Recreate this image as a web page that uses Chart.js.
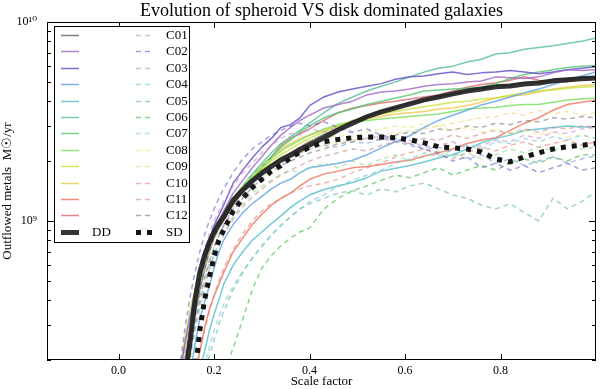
<!DOCTYPE html>
<html>
<head>
<meta charset="utf-8">
<script src="https://cdn.jsdelivr.net/npm/chart.js@4/dist/chart.umd.min.js"></script>
<style>
  body { margin: 0; background: #fff; }
  #wrap { width: 600px; height: 389px; }
</style>
</head>
<body>
<div id="wrap"><canvas id="chart"></canvas></div>
<script>
// scale factor grid shared by every curve
const scaleFactor = [0.13,0.14,0.15,0.16,0.17,0.18,0.19,0.20,0.21,0.22,0.24,0.26,0.28,0.30,0.32,0.34,0.36,0.38,0.40,0.43,0.46,0.49,0.52,0.55,0.58,0.61,0.64,0.67,0.70,0.73,0.76,0.79,0.82,0.85,0.88,0.91,0.94,0.97,1.00];

// outflowed metals, in units of 1e9 Msun/yr
const UNIT = 1e9;

// disk dominated (solid)
const s01 = [0.13,0.19,0.26,0.34,0.45,0.57,0.70,0.82,0.92,1.02,1.22,1.40,1.58,1.75,1.92,2.08,2.20,2.35,2.50,2.72,2.93,3.18,3.33,3.58,3.72,3.93,4.02,4.22,4.33,4.52,4.62,4.78,4.83,4.97,4.98,5.12,5.18,5.27,5.30];
const s02 = [0.15,0.21,0.30,0.38,0.50,0.63,0.76,0.90,1.00,1.12,1.38,1.60,1.85,2.10,2.40,2.70,2.95,3.20,3.40,3.70,3.85,4.00,4.30,4.45,4.50,4.60,4.75,4.85,4.90,5.00,5.05,5.30,5.25,5.20,5.30,5.55,5.75,5.70,5.75];
const s03 = [0.18,0.25,0.33,0.42,0.53,0.66,0.80,0.95,1.07,1.20,1.55,1.80,2.07,2.35,2.60,2.95,3.05,3.30,3.80,4.20,4.45,4.60,4.75,4.90,5.15,5.30,5.35,5.50,5.60,5.45,5.55,5.60,5.70,5.60,5.50,5.60,5.75,5.85,5.95];
const s04 = [0.09,0.12,0.17,0.24,0.32,0.39,0.47,0.58,0.70,0.80,0.96,1.10,1.22,1.33,1.45,1.55,1.62,1.75,1.85,1.90,1.95,2.02,2.15,2.33,2.50,2.68,2.95,3.20,3.40,3.60,3.83,4.00,4.20,4.40,4.60,4.85,5.10,5.35,5.60];
const s05 = [0.07,0.09,0.11,0.14,0.18,0.22,0.28,0.34,0.40,0.48,0.60,0.70,0.80,0.88,0.97,1.06,1.17,1.26,1.35,1.44,1.50,1.56,1.65,1.78,1.84,1.90,1.98,2.07,2.15,2.30,2.47,2.60,2.70,2.85,2.90,2.95,3.00,2.97,2.97];
const s06 = [0.13,0.19,0.27,0.35,0.47,0.60,0.72,0.85,0.95,1.05,1.30,1.50,1.72,1.95,2.20,2.45,2.65,2.85,3.10,3.50,3.90,4.20,4.50,4.75,5.00,5.30,5.60,5.85,6.00,6.30,6.50,6.90,7.00,7.30,7.45,7.60,7.80,8.00,8.30];
const s07 = [0.14,0.20,0.28,0.36,0.48,0.60,0.72,0.85,0.94,1.05,1.28,1.48,1.70,1.90,2.10,2.35,2.55,2.80,3.00,3.30,3.50,3.65,3.85,4.00,4.15,4.30,4.50,4.55,4.60,4.65,4.70,4.90,5.20,5.45,5.60,5.75,5.90,6.00,6.05];
const s08 = [0.14,0.20,0.28,0.37,0.48,0.60,0.72,0.84,0.94,1.03,1.25,1.45,1.65,1.85,2.05,2.25,2.40,2.55,2.70,2.90,3.05,3.15,3.20,3.25,3.30,3.35,3.40,3.45,3.55,3.65,3.70,3.72,3.80,3.85,3.85,3.95,4.05,4.10,4.15];
const s09 = [0.19,0.27,0.36,0.45,0.56,0.68,0.80,0.90,1.00,1.10,1.30,1.48,1.65,1.80,2.00,2.15,2.30,2.45,2.60,2.80,3.00,3.20,3.30,3.45,3.55,3.65,3.75,3.85,3.95,4.00,4.10,4.15,4.30,4.40,4.50,4.55,4.65,4.70,4.75];
const s10 = [0.15,0.22,0.30,0.39,0.50,0.62,0.74,0.85,0.95,1.05,1.25,1.45,1.65,1.85,2.05,2.30,2.45,2.60,2.70,2.85,3.00,3.15,3.25,3.35,3.45,3.50,3.55,3.65,3.70,3.80,3.95,4.15,4.25,4.30,4.45,4.60,4.70,4.80,4.85];
const s11 = [0.08,0.10,0.13,0.17,0.22,0.29,0.36,0.42,0.48,0.55,0.70,0.82,0.96,1.08,1.20,1.30,1.38,1.50,1.62,1.72,1.78,1.85,1.88,1.92,1.98,2.02,2.12,2.20,2.30,2.45,2.55,2.62,2.85,3.10,3.30,3.60,3.85,3.95,4.05];
const s12 = [0.14,0.20,0.28,0.37,0.48,0.60,0.72,0.83,0.92,1.00,1.20,1.40,1.60,1.85,2.10,2.40,2.60,2.75,2.90,3.20,3.50,3.70,3.80,3.92,4.00,4.10,4.20,4.30,4.50,4.70,4.85,4.95,5.10,5.30,5.10,4.95,5.00,5.20,5.25];

// spheroid dominated (dashed)
const c01 = [0.16,0.24,0.34,0.45,0.58,0.72,0.86,1.00,1.12,1.25,1.50,1.75,1.95,2.20,2.40,2.60,2.75,2.70,2.90,2.80,2.95,2.75,2.60,2.65,2.50,2.55,2.35,2.40,2.50,2.30,2.40,2.55,2.50,2.70,2.60,2.80,2.75,2.90,2.95];
const c02 = [0.20,0.30,0.42,0.55,0.70,0.85,1.00,1.15,1.30,1.45,1.75,2.05,2.30,2.50,2.70,2.85,3.00,3.10,3.00,3.15,2.95,2.80,2.90,2.70,2.60,2.45,2.30,2.20,2.00,2.10,1.85,1.95,1.80,1.90,1.75,1.85,1.95,1.80,1.85];
const c03 = [0.10,0.15,0.22,0.30,0.40,0.50,0.62,0.74,0.85,0.96,1.15,1.35,1.55,1.70,1.85,2.00,2.10,2.20,2.30,2.40,2.35,2.50,2.45,2.60,2.50,2.40,2.30,2.35,2.20,2.05,2.15,1.95,2.05,1.90,2.00,2.10,1.95,2.05,2.12];
const c04 = [0.06,0.08,0.10,0.12,0.15,0.19,0.23,0.28,0.33,0.38,0.47,0.56,0.65,0.74,0.85,0.95,1.05,1.15,1.25,1.35,1.50,1.60,1.70,1.80,1.95,2.05,2.20,2.10,2.30,2.40,2.30,2.50,2.45,2.60,2.50,2.65,2.55,2.70,2.60];
const c05 = [0.06,0.07,0.09,0.11,0.14,0.17,0.21,0.25,0.30,0.35,0.45,0.55,0.65,0.75,0.85,0.95,1.05,1.15,1.22,1.30,1.38,1.42,1.35,1.45,1.40,1.50,1.55,1.45,1.35,1.30,1.20,1.15,1.22,1.10,1.00,1.30,1.15,1.25,1.40];
const c06 = [0.04,0.05,0.06,0.07,0.08,0.09,0.11,0.13,0.15,0.17,0.23,0.32,0.45,0.58,0.67,0.75,0.82,0.88,0.92,1.15,1.30,1.42,1.50,1.60,1.70,1.65,1.75,1.85,1.70,1.80,1.90,1.80,1.95,2.05,1.95,2.10,2.00,2.15,2.15];
const c07 = [0.10,0.14,0.20,0.27,0.36,0.46,0.57,0.68,0.78,0.88,1.05,1.22,1.38,1.50,1.60,1.72,1.80,1.75,1.85,1.95,1.85,2.00,1.90,2.05,2.15,2.00,2.10,2.25,2.10,2.20,2.05,2.15,2.30,2.20,2.35,2.25,2.40,2.30,2.35];
const c08 = [0.15,0.22,0.31,0.40,0.52,0.64,0.76,0.88,0.98,1.08,1.30,1.50,1.70,1.90,2.05,2.20,2.30,2.45,2.55,2.60,2.70,2.65,2.80,2.90,3.00,2.95,3.10,3.00,2.85,2.95,2.80,2.90,2.75,2.85,2.70,2.80,2.65,2.70,2.60];
const c09 = [0.13,0.19,0.27,0.36,0.47,0.58,0.70,0.82,0.92,1.02,1.22,1.42,1.60,1.75,1.90,2.00,2.10,2.20,2.30,2.40,2.50,2.55,2.60,2.70,2.75,2.85,2.90,3.00,3.10,3.20,3.30,3.35,3.50,3.40,3.60,3.45,3.55,3.40,3.50];
const c10 = [0.08,0.10,0.13,0.17,0.22,0.28,0.35,0.42,0.50,0.58,0.72,0.86,1.00,1.12,1.22,1.30,1.38,1.45,1.50,1.55,1.62,1.75,1.85,1.95,2.10,2.20,2.30,2.15,2.05,2.20,2.35,2.25,2.40,2.50,2.35,2.45,2.55,2.40,2.50];
const c11 = [0.11,0.16,0.22,0.29,0.38,0.47,0.57,0.67,0.76,0.85,1.02,1.18,1.32,1.45,1.58,1.70,1.80,1.90,2.00,2.12,2.20,2.30,2.25,2.40,2.50,2.45,2.60,2.55,2.70,2.60,2.75,2.85,2.75,2.90,2.80,2.95,2.90,3.00,2.97];
const c12 = [0.12,0.17,0.24,0.32,0.42,0.52,0.63,0.74,0.84,0.94,1.12,1.30,1.48,1.62,1.78,1.90,2.00,2.10,2.20,2.30,2.45,2.50,2.60,2.55,2.70,2.80,2.75,2.90,2.85,3.00,2.95,3.10,3.05,3.20,3.15,3.30,3.25,3.35,3.30];

// averages
const dd = [0.12,0.17,0.25,0.40,0.55,0.67,0.78,0.88,0.97,1.05,1.27,1.43,1.59,1.74,1.88,2.02,2.14,2.28,2.41,2.62,2.87,3.10,3.34,3.53,3.70,3.88,4.06,4.20,4.35,4.50,4.60,4.72,4.77,4.88,4.94,5.06,5.12,5.18,5.23];
const sd = [0.08,0.10,0.13,0.17,0.28,0.40,0.52,0.66,0.80,0.90,1.12,1.30,1.47,1.62,1.78,1.90,2.08,2.22,2.35,2.50,2.57,2.62,2.64,2.64,2.62,2.56,2.47,2.36,2.33,2.30,2.22,2.05,1.98,2.10,2.20,2.30,2.36,2.40,2.45];

const diskSeries = [s01,s02,s03,s04,s05,s06,s07,s08,s09,s10,s11,s12];
const sphSeries = [c01,c02,c03,c04,c05,c06,c07,c08,c09,c10,c11,c12];
const sphLabels = ['C01','C02','C03','C04','C05','C06','C07','C08','C09','C10','C11','C12'];

const diskColors = ['rgba(105,105,105,0.85)','rgba(160,100,200,0.8)','rgba(105,85,200,0.85)','rgba(90,160,230,0.8)',
  'rgba(80,190,200,0.8)','rgba(80,190,150,0.8)','rgba(80,200,110,0.8)','rgba(120,220,90,0.8)',
  'rgba(200,225,60,0.8)','rgba(240,200,70,0.8)','rgba(240,115,90,0.8)','rgba(220,100,110,0.8)'];
const sphColors = ['rgba(200,140,210,0.6)','rgba(100,100,200,0.6)','rgba(120,160,210,0.6)','rgba(110,200,210,0.6)',
  'rgba(100,180,170,0.6)','rgba(70,190,80,0.65)','rgba(140,220,140,0.6)','rgba(235,235,120,0.6)',
  'rgba(240,210,120,0.6)','rgba(230,130,120,0.6)','rgba(210,130,140,0.6)','rgba(120,120,120,0.6)'];

const chartTitle = 'Evolution of spheroid VS disk dominated galaxies';
const xTickValues = [0, 0.2, 0.4, 0.6, 0.8];
const xTickLabels = ['0.0', '0.2', '0.4', '0.6', '0.8'];
const yTickValues = [1e9, 1e10];
const yTickLabels = ['10\u2079', '10\u00b9\u2070'];
const yMinorTicks = [2e8,3e8,4e8,5e8,6e8,7e8,8e8,9e8,2e9,3e9,4e9,5e9,6e9,7e9,8e9,9e9];

const FONT = "'Liberation Serif', 'DejaVu Serif', serif";

function toPoints(vals) {
    return vals.map((v, i) => ({ x: scaleFactor[i], y: v * UNIT }));
}

const datasets = [];
datasets.push({ label: 'DD', data: toPoints(dd), borderColor: 'rgba(30,30,30,0.9)', borderWidth: 5, order: 0 });
datasets.push({ label: 'SD', data: toPoints(sd), borderColor: 'rgba(10,10,10,0.95)', borderWidth: 5, borderDash: [5, 6], order: 0 });
diskSeries.forEach((s, i) => {
    datasets.push({ label: '', data: toPoints(s), borderColor: diskColors[i], borderWidth: 1.5, order: 2 });
});
sphSeries.forEach((s, i) => {
    datasets.push({ label: sphLabels[i], data: toPoints(s), borderColor: sphColors[i], borderWidth: 1.5, borderDash: [5, 4], order: 1 });
});

// title over the plot, frame, inward ticks and the two-column legend
const decor = {
    id: 'decor',
    afterDatasetsDraw(chart) {
        const { ctx, chartArea: a, scales: { x, y } } = chart;
        ctx.save();

        ctx.fillStyle = '#000';
        ctx.font = '18px ' + FONT;
        ctx.textAlign = 'center';
        ctx.textBaseline = 'middle';
        ctx.fillText(chartTitle, (a.left + a.right) / 2, 11);
        ctx.textAlign = 'left';

        ctx.strokeStyle = '#000';
        ctx.lineWidth = 1;
        ctx.strokeRect(a.left + 0.5, a.top + 0.5, a.width - 1, a.height - 1);

        ctx.beginPath();
        xTickValues.forEach(v => {
            const px = Math.round(x.getPixelForValue(v)) + 0.5;
            ctx.moveTo(px, a.bottom); ctx.lineTo(px, a.bottom - 6);
            ctx.moveTo(px, a.top); ctx.lineTo(px, a.top + 6);
        });
        yTickValues.forEach(v => {
            const py = Math.round(y.getPixelForValue(v)) + 0.5;
            ctx.moveTo(a.left, py); ctx.lineTo(a.left + 7, py);
            ctx.moveTo(a.right, py); ctx.lineTo(a.right - 7, py);
        });
        yMinorTicks.forEach(v => {
            const py = Math.round(y.getPixelForValue(v)) + 0.5;
            ctx.moveTo(a.left, py); ctx.lineTo(a.left + 4, py);
            ctx.moveTo(a.right, py); ctx.lineTo(a.right - 4, py);
        });
        ctx.stroke();

        // legend box
        const bx = 54, by = 26, bw = 135, bh = 216;
        ctx.fillStyle = '#fff';
        ctx.fillRect(bx, by, bw, bh);
        ctx.strokeRect(bx + 0.5, by + 0.5, bw, bh);

        const left = [...datasets.slice(2, 14), datasets[0]];
        const right = [...datasets.slice(14), datasets[1]];
        ctx.font = '13px ' + FONT;
        ctx.fillStyle = '#000';
        const rowY = i => 35 + i * 16.4;
        const drawSample = (ds, x0, x1, yy) => {
            ctx.save();
            ctx.strokeStyle = ds.borderColor;
            ctx.lineWidth = ds.borderWidth;
            ctx.setLineDash(ds.borderDash || []);
            ctx.beginPath();
            ctx.moveTo(x0, yy); ctx.lineTo(x1, yy);
            ctx.stroke();
            ctx.restore();
        };
        left.forEach((ds, i) => {
            const yy = Math.round(rowY(i)) + 0.5;
            drawSample(ds, 61, 79, yy);
            if (ds.label) ctx.fillText(ds.label, 92, yy);
        });
        right.forEach((ds, i) => {
            const yy = Math.round(rowY(i)) + 0.5;
            drawSample(ds, 136, 152, yy);
            ctx.fillText(ds.label, 166, yy);
        });
        ctx.restore();
    }
};

new Chart(document.getElementById('chart'), {
    type: 'line',
    data: { datasets },
    options: {
        responsive: true,
        maintainAspectRatio: false,
        animation: false,
        layout: { padding: { left: 0, right: 4, top: 22, bottom: 0 } },
        elements: { point: { radius: 0 }, line: { tension: 0, borderJoinStyle: 'round' } },
        plugins: {
            legend: { display: false },
            tooltip: { enabled: false },
            title: { display: false }
        },
        scales: {
            x: {
                type: 'linear',
                min: -0.15,
                max: 1.0,
                grid: { display: false, drawTicks: false },
                border: { display: false },
                afterBuildTicks(s) { s.ticks = xTickValues.map(v => ({ value: v })); },
                ticks: {
                    autoSkip: false, maxRotation: 0, padding: 4, color: '#000',
                    font: { family: FONT, size: 12 },
                    callback: (v, i) => xTickLabels[i]
                },
                title: {
                    display: true, text: 'Scale factor', color: '#000',
                    font: { family: FONT, size: 13 }, padding: { top: 0, bottom: 0 }
                },
                afterFit(s) { s.height = 29; }
            },
            y: {
                type: 'logarithmic',
                min: 2e8,
                max: 1e10,
                grid: { display: false, drawTicks: false },
                border: { display: false },
                afterBuildTicks(s) { s.ticks = yTickValues.map(v => ({ value: v })); },
                ticks: {
                    autoSkip: false, padding: 10, color: '#000',
                    font: { family: FONT, size: 12 },
                    callback: (v, i) => yTickLabels[i]
                },
                title: {
                    display: true, text: 'Outflowed metals  M\u2609/yr', color: '#000',
                    font: { family: FONT, size: 13 }, padding: { top: 0, bottom: 0 }
                },
                afterFit(s) { s.width = 47; }
            }
        }
    },
    plugins: [decor]
});
</script>
</body>
</html>
